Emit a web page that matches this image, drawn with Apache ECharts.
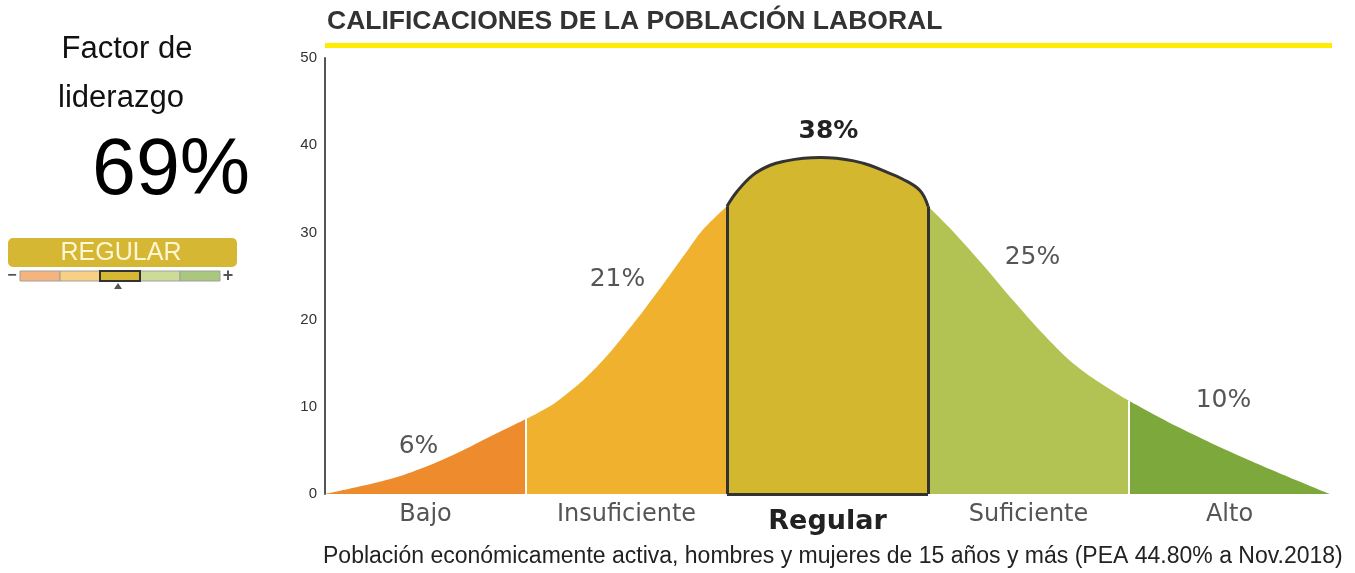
<!DOCTYPE html>
<html>
<head>
<meta charset="utf-8">
<script src="https://cdn.jsdelivr.net/npm/echarts@6/dist/echarts.min.js"></script>
<style>
  html, body { margin: 0; padding: 0; background: #fff; }
  #chart { width: 1355px; height: 573px; }
</style>
</head>
<body>
<div id="chart"></div>
<script>
// categories and their shares
const categories = ['Bajo', 'Insuficiente', 'Regular', 'Suficiente', 'Alto'];
const shares = [6, 21, 38, 25, 10];
// segment boundaries on the x scale (0..100)
const bounds = [0, 20, 40, 60, 80, 100];
// bell curve
const curveX = [0, 6.1, 9.5, 12.8, 16.1, 20, 22.7, 24.4, 26, 27.7, 29.4, 31, 32.7, 34.3, 36, 37.6, 40,
  41, 42.6, 44.3, 45.9, 47.6, 49.3, 50.9, 52.6, 54.2, 55.9, 57.5, 59.2, 60,
  62, 65.3, 68.7, 72, 75.3, 80, 85.2, 91.9, 100];
const curveY = [0, 1.6, 2.9, 4.5, 6.4, 8.6, 10.3, 11.8, 13.4, 15.4, 17.7, 20.0, 22.6, 25.1, 27.8, 30.3, 33.0,
  34.7, 36.6, 37.7, 38.2, 38.5, 38.6, 38.5, 38.2, 37.7, 36.9, 36.1, 34.8, 33.0,
  30.7, 26.5, 21.9, 17.7, 14.2, 10.7, 7.5, 3.9, 0];
const yTicks = [0, 10, 20, 30, 40, 50];

const colors = ['#EE8B2D', '#F0B12F', '#D3B72F', '#B3C353', '#7DA83B'];
const labelOffsets = [[-7, -20], [-9, -53], [1, -26], [4, -60], [-6, -51]];
const font = 'Liberation Sans, Arial, sans-serif';
const wide = 'DejaVu Sans, sans-serif';

const points = curveX.map((x, i) => [x, curveY[i]]);

// value of the curve at x (for anchoring labels and borders)
function curveAt(x) {
  for (let i = 1; i < points.length; i++) {
    if (x <= points[i][0]) {
      const [x0, y0] = points[i - 1], [x1, y1] = points[i];
      return y0 + (y1 - y0) * (x - x0) / (x1 - x0);
    }
  }
  return 0;
}

const series = categories.map((name, i) => {
  const lo = bounds[i], hi = bounds[i + 1], mid = (lo + hi) / 2;
  const isMain = i === 2;
  return {
    name: name,
    type: 'line',
    smooth: 0.4,
    symbol: 'none',
    z: isMain ? 4 : 2,
    data: points.filter(p => p[0] >= lo && p[0] <= hi),
    lineStyle: isMain ? { color: '#333', width: 3 } : { width: 0 },
    areaStyle: { color: colors[i], opacity: 1 },
    markPoint: {
      symbol: 'circle',
      symbolSize: 0,
      data: [{ coord: [mid, curveAt(mid)] }],
      label: {
        show: true,
        formatter: shares[i] + '%',
        offset: labelOffsets[i],
        fontFamily: wide,
        fontSize: 25,
        fontWeight: isMain ? 'bold' : 'normal',
        color: isMain ? '#222' : '#555'
      }
    },
    markLine: isMain ? {
      silent: true,
      symbol: 'none',
      lineStyle: { color: '#333', width: 3, type: 'solid' },
      data: [
        [{ coord: [lo, 0] }, { coord: [lo, curveAt(lo)] }],
        [{ coord: [hi, 0] }, { coord: [hi, curveAt(hi)] }],
        [{ coord: [lo, 0] }, { coord: [hi, 0] }]
      ]
    } : (i === 4 ? {
      silent: true,
      symbol: 'none',
      lineStyle: { color: '#fff', width: 2, type: 'solid' },
      data: [20, 80].map(b => [{ coord: [b, 0] }, { coord: [b, curveAt(b)] }])
    } : undefined)
  };
});

const chart = echarts.init(document.getElementById('chart'));
chart.setOption({
  animation: false,
  title: {
    text: 'CALIFICACIONES DE LA POBLACIÓN LABORAL',
    left: 322,
    top: 3,
    textStyle: { fontFamily: font, fontSize: 26.5, fontWeight: 'bold', color: '#333' }
  },
  grid: { left: 325, right: 25, top: 58, bottom: 79 },
  xAxis: {
    type: 'value',
    min: 0,
    max: 100,
    interval: 10,
    axisLine: { show: false },
    axisTick: { show: false },
    splitLine: { show: false },
    axisLabel: {
      margin: 9,
      fontFamily: wide,
      fontSize: 24,
      color: '#555',
      formatter: v => {
        const idx = (v - 10) / 20;
        if (!Number.isInteger(idx) || idx < 0 || idx >= categories.length) return '';
        return idx === 2 ? '{main|' + categories[idx] + '}' : categories[idx];
      },
      rich: {
        main: { fontFamily: wide, fontSize: 27, fontWeight: 'bold', color: '#222', padding: [5, 0, 0, 0] }
      }
    }
  },
  yAxis: {
    type: 'value',
    min: yTicks[0],
    max: yTicks[yTicks.length - 1],
    interval: 10,
    axisLine: { show: true, lineStyle: { color: '#555', width: 2 } },
    axisTick: { show: false },
    splitLine: { show: false },
    axisLabel: { margin: 8, fontFamily: font, fontSize: 15, color: '#333' }
  },
  graphic: [
    { type: 'rect', shape: { x: 325, y: 43, width: 1007, height: 5 }, style: { fill: '#FFEC00' } },
    { type: 'text', x: 323, y: 545, style: { text: 'Población económicamente activa, hombres y mujeres de 15 años y más (PEA 44.80% a Nov.2018)', font: '23px ' + font, fill: '#222' } },
    { type: 'text', x: 127, y: 49, style: { text: 'Factor de', font: '31px ' + font, fill: '#111', align: 'center', verticalAlign: 'middle' } },
    { type: 'text', x: 121, y: 98, style: { text: 'liderazgo', font: '31px ' + font, fill: '#111', align: 'center', verticalAlign: 'middle' } },
    { type: 'text', x: 171, y: 172, style: { text: '69%', font: '79px ' + font, fill: '#000', align: 'center', verticalAlign: 'middle' } },
    { type: 'rect', shape: { x: 8, y: 238, width: 229, height: 29, r: 5 }, style: { fill: '#D5B733' } },
    { type: 'text', x: 121, y: 253, style: { text: 'REGULAR', font: '25px ' + font, fill: '#FFF6D5', align: 'center', verticalAlign: 'middle' } },
    { type: 'rect', shape: { x: 20, y: 271, width: 40, height: 10 }, style: { fill: '#F5B47D', stroke: '#A0A0A0', lineWidth: 1 } },
    { type: 'rect', shape: { x: 60, y: 271, width: 40, height: 10 }, style: { fill: '#F9CF84', stroke: '#A0A0A0', lineWidth: 1 } },
    { type: 'rect', shape: { x: 140, y: 271, width: 40, height: 10 }, style: { fill: '#CCDC98', stroke: '#A0A0A0', lineWidth: 1 } },
    { type: 'rect', shape: { x: 180, y: 271, width: 40, height: 10 }, style: { fill: '#A9C77E', stroke: '#A0A0A0', lineWidth: 1 } },
    { type: 'rect', shape: { x: 100, y: 271, width: 40, height: 10 }, style: { fill: '#D6B834', stroke: '#333', lineWidth: 2 } },
    { type: 'polygon', shape: { points: [[118, 283], [114, 289], [122, 289]] }, style: { fill: '#555' } },
    { type: 'text', x: 12, y: 276, style: { text: '−', font: 'bold 16px ' + font, fill: '#555', align: 'center', verticalAlign: 'middle' } },
    { type: 'text', x: 228, y: 276, style: { text: '+', font: 'bold 18px ' + font, fill: '#555', align: 'center', verticalAlign: 'middle' } }
  ],
  series: series
});
</script>
</body>
</html>
